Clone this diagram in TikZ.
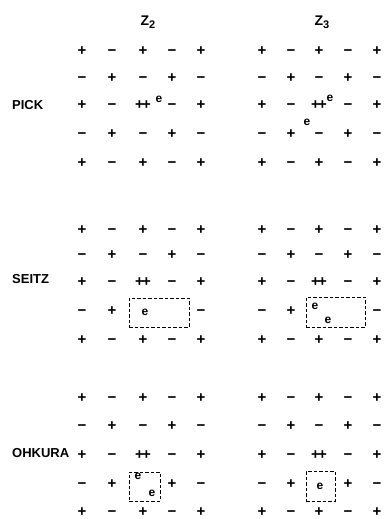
\documentclass[tikz,border=0pt]{standalone}
\usepackage{fontspec}
\setmainfont{Liberation Sans}
\setsansfont{Liberation Sans}
\usetikzlibrary{positioning}

\begin{document}
\begin{tikzpicture}[
    x=1pt, y=-1pt,
    font=\sffamily\bfseries,
    every node/.style={inner sep=1pt},
    sign/.style={font=\fontsize{15}{15}\selectfont\sffamily\bfseries,
                 text height=0.58em, text depth=0pt},
    elec/.style={font=\fontsize{12}{12}\selectfont\sffamily\bfseries},
    method/.style={anchor=west, font=\fontsize{13}{13}\selectfont\sffamily\bfseries},
    head/.style={font=\fontsize{14}{14}\selectfont\sffamily\bfseries},
    hole/.style={draw, line width=0.9pt, dash pattern=on 3.5pt off 2pt,
                 inner sep=0pt}
]
\useasboundingbox (0,0) rectangle (385,519);

% Column heads
\node[head] (z2) at (148,22) {Z\raisebox{-3.5pt}{\fontsize{11}{11}\selectfont 2}};
\node[head] (z3) at (322,22) {Z\raisebox{-3.5pt}{\fontsize{11}{11}\selectfont 3}};

% Models
\node[method] (pick)   at (11,105) {PICK};
\node[method] (seitz)  at (11,279) {SEITZ};
\node[method] (ohkura) at (11,453) {OHKURA};

% Sign lattices, rows 1, 2, 3 and 5
\foreach \blk/\ya/\yb/\yc/\yd/\ye in {pick/53/80/107/136/165,
                                      seitz/232/257/284/313/342,
                                      ohkura/400/428/457/486/514}
  \foreach \side/\xa/\xb/\xc/\xd/\xe in {a/82/112/143/172/201,
                                         b/262/291/319/348/377} {
    \foreach \row/\py in {1/\ya,2/\yb,3/\yc,5/\ye}
      \foreach \col/\px in {1/\xa,2/\xb,3/\xc,4/\xd,5/\xe} {
        \pgfmathtruncatemacro\parity{\row+\col}
        \node[sign] (\blk-\side-\row-\col) at (\px,\py)
          {\ifnum\row\col=33 +\kern-2pt+\else\ifodd\parity −\else +\fi\fi};
      }
    % row 4, the cells next to the defect
    \foreach \col/\px/\s in {1/\xa/−,2/\xb/+,5/\xe/−}
      \node[sign] (\blk-\side-4-\col) at (\px,\yd) {\s};
  }

% Row 4, cells outside the defect boxes
\foreach \side in {a,b} {
  \node[sign] (pick-\side-4-3) at (pick-\side-3-3 |- pick-\side-4-1) {−};
  \node[sign] (pick-\side-4-4) at (pick-\side-3-4 |- pick-\side-4-1) {+};
  \node[sign] (ohkura-\side-4-4) at (ohkura-\side-3-4 |- ohkura-\side-4-1) {+};
}

% Electrons, PICK
\node[elec] (pick-a-e)  at (159,99)  {e};
\node[elec] (pick-b-e1) at (330,98)  {e};
\node[elec] (pick-b-e2) at (307,122) {e};

% Defect boxes, SEITZ
\node[hole, minimum width=60, minimum height=29] (seitz-a-box) at (159,312.5) {};
\node[hole, minimum width=59, minimum height=30] (seitz-b-box) at (335.5,312) {};
\node[elec] (seitz-a-e)  at (145,312) {e};
\node[elec] (seitz-b-e1) at (315,306) {e};
\node[elec] (seitz-b-e2) at (328,320) {e};

% Defect boxes, OHKURA
\node[hole, minimum width=31, minimum height=29] (ohkura-a-box) at (144.5,486.5) {};
\node[hole, minimum width=29, minimum height=30] (ohkura-b-box) at (320.5,486) {};
\node[elec] (ohkura-a-e1) at (138,476) {e};
\node[elec] (ohkura-a-e2) at (152,493) {e};
\node[elec] (ohkura-b-e)  at (320,486) {e};

\end{tikzpicture}
\end{document}
